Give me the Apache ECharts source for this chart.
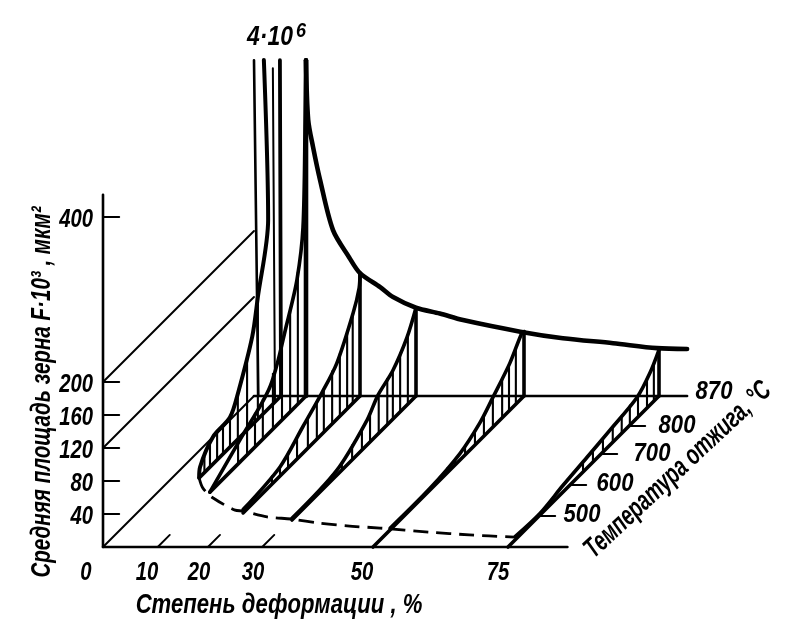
<!DOCTYPE html>
<html><head><meta charset="utf-8">
<style>html,body{margin:0;padding:0;background:#fff}#c{width:808px;height:619px}</style>
<script src="https://cdn.jsdelivr.net/npm/echarts@6/dist/echarts.min.js"></script>
</head><body><div id="c"></div>
<script>
// ---- Axis values ----
const deformationTicks = [0, 10, 20, 30, 50, 75];
const temperatureTicks = [500, 600, 700, 800, 870];
const areaTicks = [40, 80, 120, 160, 200, 400];
const AREA_BREAK = 407;   // top of the broken lines (4·10^6)

// ---- Grain area F against annealing temperature: [t, F] per deformation ----
const curve5  = [[623,0],[626,12],[668,33],[725,36],[754,56],[803,107],[816,148],[840,229],[830,428]];
const curve10 = [[577,0],[674,27],[779,55],[826,112],[849,152],[863,208],[868,335],[870,407]];
const curve20 = [[510,4],[629,11],[703,32],[771,50],[816,68],[854,109],[868,132],[870,149]];
const curve30 = [[487,2],[632,6],[732,30],[771,47],[816,59],[849,82],[870,107]];
const curve50 = [[455,2],[584,2],[681,8],[750,21],[796,36],[837,57],[865,79],[870,78]];
const curve75 = [[423,4],[503,2],[577,8],[655,13],[732,18],[819,25],[849,39],[870,56]];

// ---- Grain area at 870 °C against deformation: [d, F] ----
const curve870 = [[10,407],[10.4,335],[11.3,302],[12.6,262],[15,201],[18,168],[20,149],[23.6,132],[25.9,120],[30,107],[34.4,100],[38.7,92],[49.3,78],[57.2,70],[66.5,64],[74.6,58],[80.2,57]];

// ---- Boundary of recrystallisation on the floor: [d, t] ----
const boundary = [[5,623],[7.8,590],[11.7,558],[18,519],[19.6,516],[25,497],[29.8,490],[35.7,477],[41.3,468],[47.8,461],[57.7,448],[65.6,439],[74.4,432]];

// ---- Temperatures of the hatching strokes per deformation ----
const hatch5  = [640,658,681,700,725,753,786,816];
const hatch10 = [668,697,725,753,789,814,833,851];
const hatch20 = [603,629,655,684,721,753,778,805,823,840,853];
const hatch30 = [616,648,681,714,743,774,803,816,833,851];
const hatch50 = [639,665,697,732,764,796,819,835,851];
const hatch75 = [642,674,707,742,774,802,821,842,858];

// ---- Hand-drawn oblique axes: value -> drawing units ----
const dKnots = [[0,103],[5,130],[10,155],[20,209],[30,265],[50,373],[75,508],[90,589]];
const tKnots = [[400,0],[500,31],[600,62],[700,93],[800,121],[870,151]];
const FLOOR = 547, AREA_SCALE = 0.825;

function lerp(knots, v){
  for(let i=1;i<knots.length;i++){
    if(v<=knots[i][0]){
      const a=knots[i-1],b=knots[i];
      return a[1]+(b[1]-a[1])*(v-a[0])/(b[0]-a[0]);
    }
  }
  return knots[knots.length-1][1];
}
function project(d,t,F){
  const k=lerp(tKnots,t);
  return [lerp(dKnots,d)+k, FLOOR-k-AREA_SCALE*F];
}
function areaAt(curve,t){
  for(let i=1;i<curve.length;i++){
    const a=curve[i-1],b=curve[i];
    if(t>=a[0]&&t<=b[0]) return a[1]+(b[1]-a[1])*(t-a[0])/(b[0]-a[0]);
  }
  return 0;
}

const series=[];
function line(pts,width,opts){
  opts=opts||{};
  series.push({
    type:'line',data:pts,symbol:'none',silent:true,animation:false,clip:false,
    smooth:opts.smooth||false,
    lineStyle:{color:'#000',width:width,cap:opts.dash?'butt':'round',join:'round',type:opts.dash||'solid'},
    z:2
  });
}
const bands=[[5,curve5,hatch5],[10,curve10,hatch10],[20,curve20,hatch20],[30,curve30,hatch30],[50,curve50,hatch50],[75,curve75,hatch75]];

// axes
line([project(0,400,0),project(0,400,427)],2.6);
line([project(0,400,0),project(86,400,0)],2.6);
line([project(0,870,0),project(80.2,870,0)],2.6);
line([project(0,400,0),project(0,870,0)],1.9);
line([project(0,400,120),project(0,870,120)],1.9);
line([project(0,400,200),project(0,870,200)],1.9);
areaTicks.forEach(F=>line([project(0,400,F),project(3,400,F)],2));
[10.5,19.8,29.5].forEach(d=>line([project(d,400,0),project(d,439,0)],1.9));
[500,600,700,800].forEach(t=>line([project(75,t,0),project(78,t,0)],2));

// bands
bands.forEach(([d,curve,hatch])=>{
  const big=d>=50;
  line([project(d,big?400:curve[0][0],0),project(d,870,0)],3.6);
  hatch.forEach(t=>line([project(d,t,0),project(d,t,areaAt(curve,t))],2.1));
  line(curve.map(p=>project(d,p[0],p[1])),d===5?4:3.6,{smooth:0.3});
});
// verticals at 870 °C
line([project(0,870,AREA_BREAK),project(0.8,870,0)],2.6);
line([project(4.8,870,AREA_BREAK),project(5,870,0)],3.8);
line([project(5,851,AREA_BREAK),project(5,856,0)],2);
line([project(10,870,AREA_BREAK),project(10,870,0)],4.6);
[[20,149],[30,107],[50,78],[75,56]].forEach(([d,F])=>line([project(d,870,F),project(d,870,0)],3.6));

// main curve and floor boundary
line(curve870.map(p=>project(p[0],870,p[1])),4.6,{smooth:0.3});
line(boundary.map(p=>project(p[0],p[1],0)),2.8,{dash:[15,8],smooth:0.3});

// ---- Text ----
const FONT='"Liberation Sans",sans-serif';
const graphics=[];
function text(x,y,str,size,scaleX,rotateDeg,align){
  graphics.push({type:'text',x:x,y:y,scaleX:scaleX,scaleY:1,rotation:(rotateDeg||0)*Math.PI/180,silent:true,z:10,
    style:{text:str,align:align||'center',verticalAlign:'middle',fill:'#000',
      font:'italic bold '+size+'px '+FONT}});
}
areaTicks.forEach(F=>{const p=project(0,400,F);text(93,p[1]+3,String(F),26,0.78,0,'right');});
const deformationLabelX=[86,147,199,253,362,498];
deformationTicks.forEach((d,i)=>text(deformationLabelX[i],573,String(d),26,0.78));
const tempLabelPos=[[582,515],[615,484],[652,454],[677,426],[714,392]];
temperatureTicks.forEach((t,i)=>text(tempLabelPos[i][0],tempLabelPos[i][1],String(t),26,0.85));
text(270,38,'4·10',27,0.85);
text(301,31,'6',20,0.9);
text(279,605,'Степень деформации , %',28,0.79);
text(42,392,'Средняя площадь зерна F·10³ , мкм²',28,0.735,90);
text(678,470,'Температура отжига, °С',28,0.69,43);

const chart=echarts.init(document.getElementById('c'),null,{renderer:'canvas'});
chart.setOption({
  backgroundColor:'#fff',animation:false,
  grid:{left:0,right:0,top:0,bottom:0},
  xAxis:{type:'value',min:0,max:808,show:false},
  yAxis:{type:'value',min:0,max:619,inverse:true,show:false},
  tooltip:{show:false},legend:{show:false},
  series:series,
  graphic:{elements:graphics}
});
</script></body></html>
